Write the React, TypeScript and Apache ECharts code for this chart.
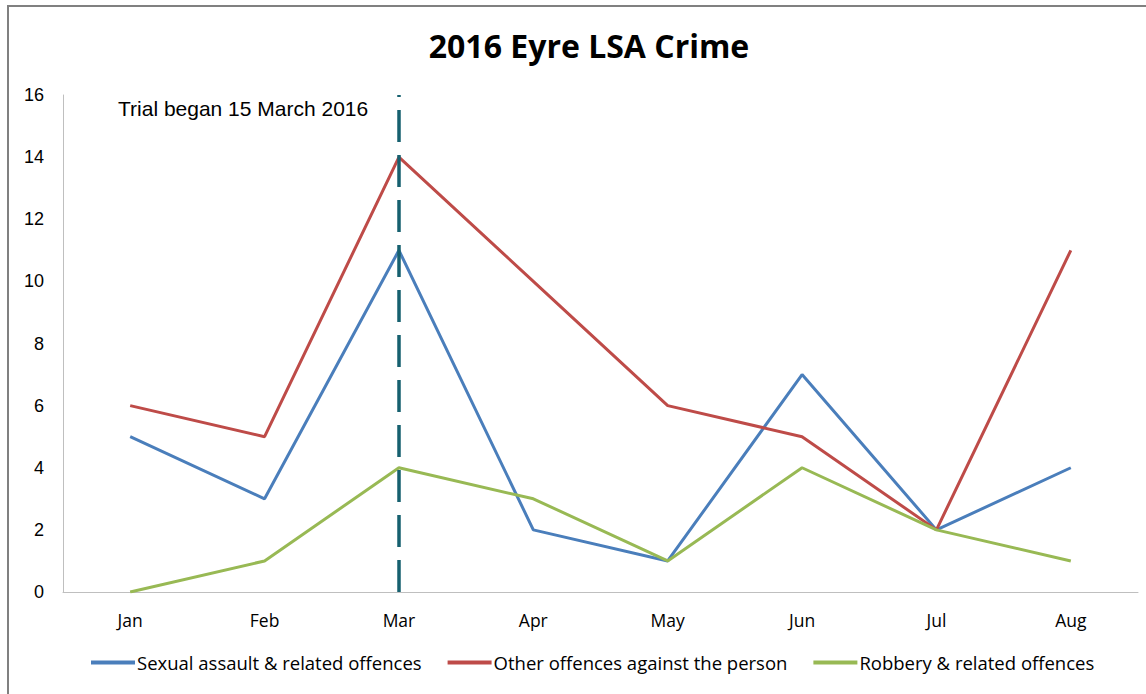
import React, { useEffect, useRef } from "react";
import * as echarts from "echarts";

const categories = ["Jan", "Feb", "Mar", "Apr", "May", "Jun", "Jul", "Aug"];
const sexualAssault = [5, 3, 11, 2, 1, 7, 2, 4];
const otherOffences = [6, 5, 14, 10, 6, 5, 2, 11];
const robbery = [0, 1, 4, 3, 1, 4, 2, 1];
const seriesNames = [
  "Sexual assault & related offences",
  "Other offences against the person",
  "Robbery & related offences",
];
const trialMonth = "Mar";
const annotation = "Trial began 15 March 2016";
const title = "2016 Eyre LSA Crime";

const narrow = '"Open Sans", sans-serif';

export default function App() {
  const ref = useRef<HTMLDivElement>(null);
  useEffect(() => {
    if (!ref.current) return;
    const chart = echarts.init(ref.current, null, { renderer: "svg" });
    const lineSeries = (name: string, data: number[], color: string, extra: any = {}) => ({
      name,
      type: "line",
      data,
      symbol: "none",
      lineStyle: { color, width: 3 },
      itemStyle: { color },
      z: 3,
      ...extra,
    });
    chart.setOption({
      animation: false,
      backgroundColor: "#ffffff",
      title: {
        text: title,
        left: 584,
        top: 24,
        textAlign: "center",
        textStyle: {
          fontFamily: '"Open Sans", sans-serif',
          fontWeight: "bold",
          fontSize: 32,
          color: "#000",
        },
      },
      grid: { left: 63, right: 8, top: 95, bottom: 102, containLabel: false },
      xAxis: {
        type: "category",
        data: categories,
        boundaryGap: true,
        axisLine: { show: true, lineStyle: { color: "#bfbfbf", width: 1 } },
        axisTick: { show: false },
        axisLabel: { color: "#000", fontSize: 17.5, fontFamily: narrow, margin: 19 },
      },
      yAxis: {
        type: "value",
        min: 0,
        max: 16,
        interval: 2,
        axisLine: { show: true, lineStyle: { color: "#bfbfbf", width: 1 } },
        axisTick: { show: false },
        splitLine: { show: false },
        axisLabel: { color: "#000", fontSize: 18, fontFamily: '"Liberation Sans", Arial, sans-serif', margin: 19 },
      },
      legend: {
        data: seriesNames,
        bottom: 17,
        left: 86,
        icon: "rect",
        itemWidth: 44,
        itemHeight: 4,
        itemGap: 26,
        textStyle: { color: "#000", fontSize: 18.5, fontFamily: narrow, padding: [0, 0, 0, -3] },
      },
      series: [
        lineSeries(seriesNames[0], sexualAssault, "#4a7ebb", {
          markLine: {
            silent: true,
            symbol: "none",
            label: { show: false },
            lineStyle: { color: "#16606f", width: 3.5, type: [32, 13] },
            data: [{ xAxis: trialMonth }],
            z: 4,
          },
        }),
        lineSeries(seriesNames[1], otherOffences, "#be4b48"),
        lineSeries(seriesNames[2], robbery, "#98b954"),
      ],
      graphic: [
        {
          type: "rect",
          shape: { x: 8, y: 6, width: 1160, height: 720 },
          style: { fill: "none", stroke: "#808080", lineWidth: 2 },
          silent: true,
          z: 10,
        },
        {
          type: "text",
          left: 118,
          top: 98,
          style: {
            text: annotation,
            fill: "#000",
            fontSize: 21,
            fontFamily: '"Liberation Sans", Arial, sans-serif',
          },
        },
      ],
    });
    return () => chart.dispose();
  }, []);
  return (
    <div
      ref={ref}
      style={{ position: "fixed", left: 0, top: 0, width: 1146, height: 694 }}
    />
  );
}
